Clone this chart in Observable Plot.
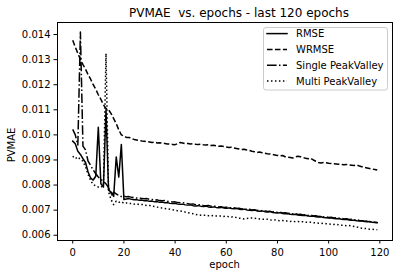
<!DOCTYPE html>
<html><head><meta charset="utf-8">
<script src="https://cdn.jsdelivr.net/npm/d3@7"></script>
<script src="https://cdn.jsdelivr.net/npm/@observablehq/plot@0.6"></script>
<style>
body{margin:0;background:#fff;}
#chart{width:398px;height:278px;}
</style></head><body>
<div id="chart"></div>
<script>
const title = "PVMAE  vs. epochs - last 120 epochs";
const xLabel = "epoch";
const yLabel = "PVMAE";
const seriesNames = ["RMSE", "WRMSE", "Single PeakValley", "Multi PeakValley"];
const xTicks = [0, 20, 40, 60, 80, 100, 120];
const yTicks = [0.006, 0.007, 0.008, 0.009, 0.010, 0.011, 0.012, 0.013, 0.014];
const epochs = d3.range(120);

const rmse = [
0.00975,0.00965,0.00935,0.00922,0.00905,0.00890,0.00852,0.00828,0.00820,0.00835,
0.01030,0.00805,0.00792,0.01100,0.00780,0.00772,0.00755,0.00912,0.00832,0.00962,
0.00742,0.00744,0.00746,0.00743,0.00741,0.00742,0.00739,0.00740,0.00737,0.00738,
0.00735,0.00736,0.00733,0.00734,0.00731,0.00732,0.00729,0.00730,0.00727,0.00726,
0.00727,0.00724,0.00723,0.00724,0.00721,0.00720,0.00721,0.00718,0.00717,0.00718,
0.00716,0.00715,0.00716,0.00713,0.00712,0.00713,0.00711,0.00710,0.00711,0.00709,
0.00708,0.00709,0.00707,0.00706,0.00707,0.00704,0.00703,0.00704,0.00701,0.00700,
0.00699,0.00700,0.00697,0.00696,0.00697,0.00694,0.00693,0.00694,0.00691,0.00690,
0.00689,0.00690,0.00687,0.00686,0.00687,0.00684,0.00683,0.00684,0.00681,0.00680,
0.00679,0.00680,0.00677,0.00676,0.00677,0.00674,0.00673,0.00674,0.00671,0.00670,
0.00669,0.00670,0.00667,0.00666,0.00667,0.00664,0.00663,0.00664,0.00661,0.00660,
0.00660,0.00658,0.00657,0.00658,0.00655,0.00654,0.00655,0.00652,0.00651,0.00650];

const wrmse = [
0.01377,0.01350,0.01325,0.01302,0.01280,0.01262,0.01240,0.01222,0.01200,0.01182,
0.01160,0.01142,0.01120,0.01105,0.01100,0.01085,0.01065,0.01045,0.01020,0.01000,
0.00995,0.00990,0.00990,0.00985,0.00982,0.00980,0.00978,0.00976,0.00975,0.00973,
0.00972,0.00970,0.00971,0.00968,0.00969,0.00967,0.00966,0.00964,0.00963,0.00962,
0.00961,0.00965,0.00970,0.00968,0.00965,0.00966,0.00964,0.00965,0.00963,0.00962,
0.00963,0.00961,0.00960,0.00961,0.00958,0.00959,0.00957,0.00955,0.00956,0.00954,
0.00952,0.00950,0.00951,0.00948,0.00946,0.00944,0.00942,0.00943,0.00940,0.00938,
0.00935,0.00933,0.00930,0.00932,0.00929,0.00927,0.00925,0.00924,0.00922,0.00920,
0.00918,0.00916,0.00918,0.00913,0.00911,0.00910,0.00908,0.00912,0.00915,0.00913,
0.00910,0.00907,0.00905,0.00907,0.00900,0.00895,0.00890,0.00888,0.00890,0.00889,
0.00887,0.00886,0.00885,0.00884,0.00883,0.00882,0.00881,0.00882,0.00880,0.00879,
0.00878,0.00880,0.00876,0.00873,0.00870,0.00868,0.00866,0.00864,0.00862,0.00860];

const singlePV = [
0.01022,0.01000,0.00960,0.01410,0.00955,0.00940,0.00895,0.00878,0.00860,0.00845,
0.00832,0.00822,0.00815,0.00805,0.00790,0.00758,0.00772,0.00765,0.00758,0.00754,
0.00756,0.00753,0.00754,0.00751,0.00750,0.00748,0.00749,0.00746,0.00745,0.00746,
0.00743,0.00742,0.00740,0.00741,0.00738,0.00737,0.00738,0.00735,0.00734,0.00732,
0.00733,0.00730,0.00729,0.00730,0.00727,0.00726,0.00724,0.00725,0.00722,0.00721,
0.00722,0.00719,0.00718,0.00719,0.00716,0.00715,0.00716,0.00713,0.00714,0.00711,
0.00712,0.00710,0.00709,0.00710,0.00707,0.00708,0.00705,0.00706,0.00703,0.00704,
0.00701,0.00702,0.00699,0.00700,0.00697,0.00698,0.00695,0.00696,0.00693,0.00694,
0.00691,0.00692,0.00689,0.00690,0.00687,0.00688,0.00685,0.00686,0.00683,0.00684,
0.00681,0.00682,0.00679,0.00680,0.00677,0.00678,0.00675,0.00676,0.00673,0.00674,
0.00671,0.00672,0.00669,0.00670,0.00667,0.00668,0.00665,0.00666,0.00663,0.00664,
0.00661,0.00662,0.00659,0.00658,0.00656,0.00657,0.00654,0.00653,0.00652,0.00651];

const multiPV = [
0.00915,0.00905,0.00912,0.00902,0.00895,0.00872,0.00842,0.00818,0.00802,0.00797,
0.00792,0.00790,0.00800,0.01325,0.00772,0.00742,0.00722,0.00736,0.00731,0.00734,
0.00727,0.00729,0.00726,0.00727,0.00724,0.00725,0.00722,0.00723,0.00720,0.00718,
0.00719,0.00716,0.00714,0.00712,0.00710,0.00708,0.00707,0.00705,0.00704,0.00702,
0.00700,0.00698,0.00697,0.00695,0.00692,0.00690,0.00688,0.00686,0.00683,0.00681,
0.00680,0.00679,0.00680,0.00678,0.00677,0.00679,0.00677,0.00676,0.00677,0.00675,
0.00676,0.00674,0.00673,0.00674,0.00670,0.00668,0.00667,0.00665,0.00667,0.00668,
0.00669,0.00667,0.00668,0.00665,0.00664,0.00663,0.00664,0.00661,0.00660,0.00661,
0.00659,0.00658,0.00659,0.00656,0.00657,0.00655,0.00656,0.00654,0.00655,0.00653,
0.00654,0.00652,0.00651,0.00652,0.00650,0.00649,0.00648,0.00647,0.00648,0.00646,
0.00645,0.00644,0.00643,0.00644,0.00641,0.00640,0.00639,0.00638,0.00639,0.00637,
0.00635,0.00633,0.00630,0.00628,0.00627,0.00626,0.00624,0.00624,0.00623,0.00622];

const seriesValues = [rmse, wrmse, singlePV, multiPV];
const dashes = [null, "5.55,2.4", "9.6,2.4,1.5,2.4", "1.5,2.475"];
const caps = ["square", "butt", "butt", "butt"];

const font = "DejaVu Sans";
const lineMarks = seriesValues.map((vals, k) =>
  Plot.line(epochs.map((e, i) => ({epoch: e, value: vals[i]})), {
    x: "epoch", y: "value", stroke: "black", strokeWidth: 1.5,
    strokeDasharray: dashes[k] || undefined, strokeLinecap: caps[k], strokeLinejoin: "round"
  })
);

const chart = Plot.plot({
  width: 398, height: 278,
  marginLeft: 57, marginRight: 6, marginTop: 22, marginBottom: 38,
  style: {fontFamily: font, fontSize: "10px", color: "black", background: "white", overflow: "visible"},
  x: {domain: [-5.95, 124.95], ticks: xTicks, tickSize: 3.5, tickPadding: 4.5, label: null},
  y: {domain: [0.00579, 0.01448], ticks: yTicks, tickFormat: d3.format(".3f"), tickSize: 3.5, tickPadding: 3.5, label: null},
  marks: [
    ...lineMarks,
    Plot.frame({stroke: "black", strokeWidth: 1})
  ]
});
document.getElementById("chart").appendChild(chart);

const svg = d3.select(chart);
svg.append("text").attr("x", 129).attr("y", 17).attr("font-size", 12).attr("font-family", font)
  .attr("text-anchor", "start").attr("fill", "black").style("white-space", "pre").text(title);
svg.append("text").attr("x", 224.5).attr("y", 268).attr("font-size", 10).attr("font-family", font)
  .attr("text-anchor", "middle").attr("fill", "black").text(xLabel);
svg.append("text").attr("transform", "translate(14.5,145) rotate(-90)").attr("font-size", 10)
  .attr("font-family", font).attr("text-anchor", "middle").attr("fill", "black").text(yLabel);

const lg = svg.append("g");
lg.append("rect").attr("x", 263.5).attr("y", 27.5).attr("width", 124).attr("height", 62.5)
  .attr("rx", 2.5).attr("fill", "white").attr("fill-opacity", 0.8).attr("stroke", "#cccccc").attr("stroke-width", 1);
seriesNames.forEach((name, k) => {
  const yy = 33.6 + k * 15.8;
  lg.append("line").attr("x1", 267).attr("x2", 287).attr("y1", yy).attr("y2", yy)
    .attr("stroke", "black").attr("stroke-width", 1.5)
    .attr("stroke-dasharray", dashes[k]).attr("stroke-linecap", caps[k]);
  lg.append("text").attr("x", 296).attr("y", yy + 3.6).attr("font-size", 10)
    .attr("font-family", font).attr("text-anchor", "start").attr("fill", "black").text(name);
});
</script>
</body></html>
